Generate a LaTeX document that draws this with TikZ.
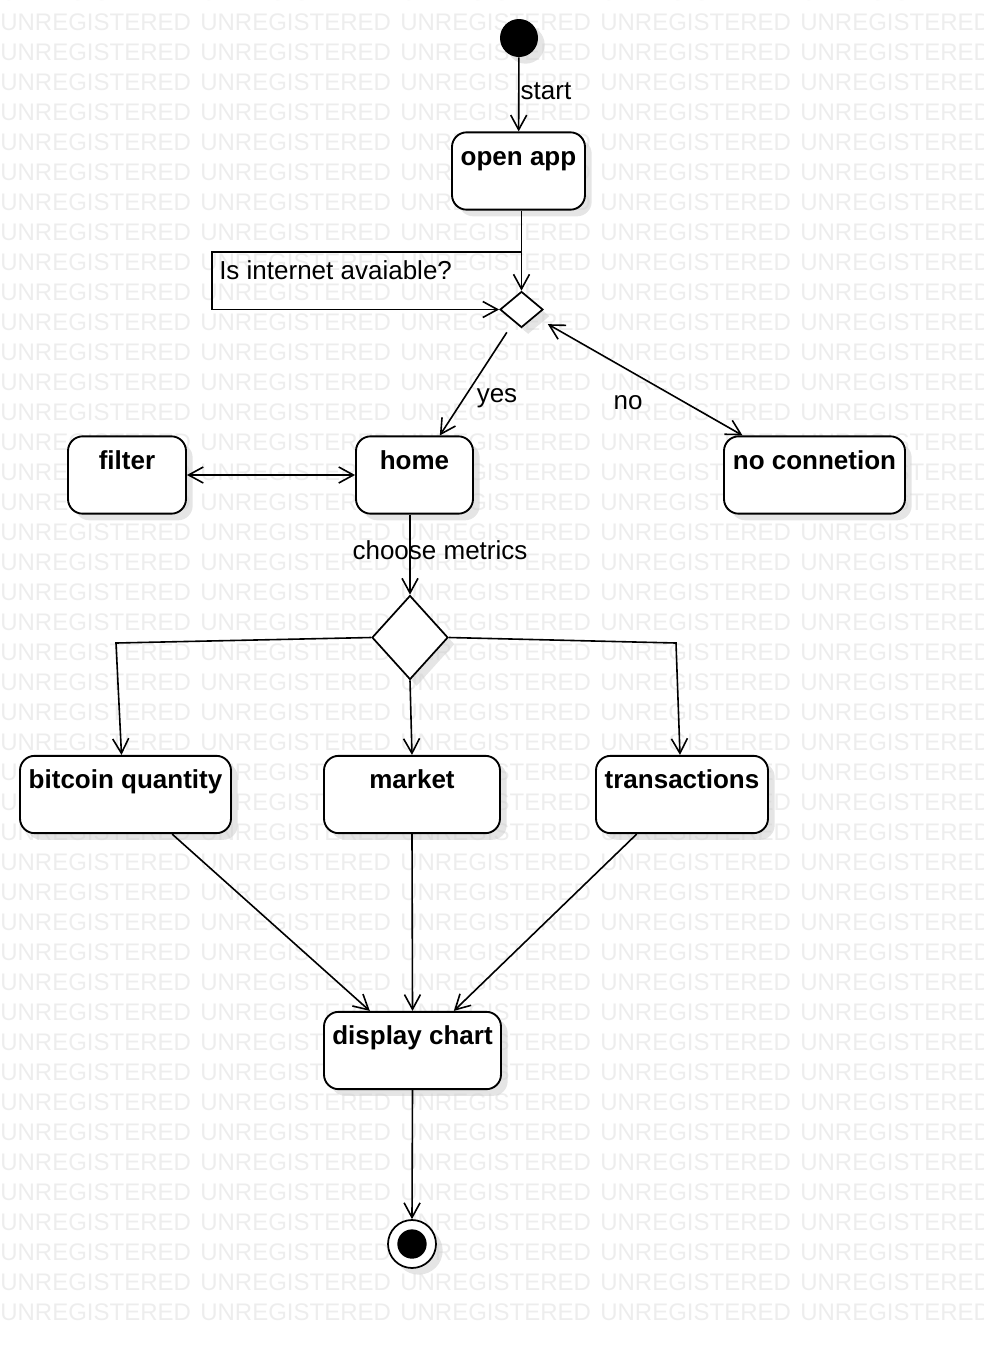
\documentclass[tikz,border=0pt]{standalone}
\usepackage{fontspec}
\setmainfont{Liberation Sans}
\usetikzlibrary{shapes.geometric,arrows.meta,shadows}

\begin{document}
\begin{tikzpicture}[x=0.75pt,y=-0.75pt,
  font=\fontsize{19.5}{23}\selectfont,
  wm/.style={anchor=base west,inner sep=0pt,text=black!7,font=\fontsize{18}{18}\selectfont},
  shade/.style={drop shadow={shadow xshift=5pt,shadow yshift=-5pt,fill=black!20,opacity=0.5}},
  act/.style={draw,line width=1.4pt,rounded corners=11pt,fill=white,shade,
    font=\fontsize{19.5}{23}\selectfont\bfseries,inner xsep=0pt,inner ysep=0pt,
    text height=24.5pt,text depth=33.5pt,minimum width=#1},
  dec/.style={diamond,draw,line width=1.3pt,fill=white,shade,inner sep=0pt},
  arr/.style={-{Straight Barb[length=11pt,width=12pt]},line width=1.2pt},
  arrboth/.style={{Straight Barb[length=11pt,width=12pt]}-{Straight Barb[length=11pt,width=12pt]},line width=1.2pt},
  lbl/.style={inner sep=0pt}]
\useasboundingbox (0,0) rectangle (984,1350);
\begin{scope}
\clip (0,0) rectangle (984,1350);
\foreach \r in {0,...,44}{
  \foreach \c in {0,...,4}{
    \node[wm] (W\r-\c) at (\c*200,\r*30) {UNREGISTERED};
  }
}
\end{scope}

\node[circle,fill=black,inner sep=0pt,minimum size=28.5pt,shade] (Init) at (519,38) {};
\node[act=99.75pt] (Open) at (518.5,171) {open app};
\node[dec,minimum width=32.25pt,minimum height=27pt] (D1) at (521.5,309.5) {};
\node[act=87.75pt] (Home) at (414.5,475) {home};
\node[act=88.5pt] (Filter) at (127,475) {filter};
\node[act=135.75pt] (NoCon) at (814.5,475) {no connetion};
\node[dec,minimum width=57pt,minimum height=63pt] (D2) at (410,637.5) {};
\node[act=158.25pt] (BQ) at (125.5,794.5) {bitcoin quantity};
\node[act=132pt] (Mkt) at (412,794.5) {market};
\node[act=129pt] (Tx) at (682,794.5) {transactions};
\node[act=132.75pt] (Chart) at (412.5,1050.5) {display chart};
\node[circle,draw,line width=1.3pt,fill=white,inner sep=0pt,minimum size=36pt,shade] (End) at (412,1244) {};
\node[circle,fill=black,inner sep=0pt,minimum size=22pt] (EndDot) at (End) {};
\coordinate (Ask) at (521.5,252);

\node[lbl] (LStart) at (546,91) {start};
\node[lbl,anchor=west] (LAsk) at (219,270) {Is internet avaiable?};
\node[lbl] (LYes) at (497,398) {yes};
\node[lbl] (LNo) at (628,403) {no};
\node[lbl] (LChoose) at (440,550) {choose metrics};

\draw[arr] (Init) to (Open);
\draw[arr] (Open.south -| D1.north) to (D1.north);
\draw[arr] (Ask) -- (212,252) |- (D1.west);
\draw[arr] ([xshift=-11pt,yshift=-3pt]D1.south) to ([xshift=19pt]Home.north);
\draw[arrboth] ([xshift=3pt,yshift=-11pt]D1.east) to ([xshift=-54pt]NoCon.north);
\draw[arrboth] (Filter.east) to (Home.west);
\draw[arr] (Home.south -| D2.north) to (D2.north);
\draw[arr] (D2.west) -- (116,643) -- ([xshift=-3pt]BQ.north);
\draw[arr] (D2.south) to (Mkt.north);
\draw[arr] (D2.east) -- (676,643) -- ([xshift=-1.5pt]Tx.north);
\draw[arr] ([xshift=35pt]BQ.south) to ([xshift=-32pt]Chart.north);
\draw[arr] (Mkt.south) to (Chart.north);
\draw[arr] ([xshift=-34pt]Tx.south) to ([xshift=31pt]Chart.north);
\draw[arr] (Chart.south) to (End.north);
\end{tikzpicture}
\end{document}
